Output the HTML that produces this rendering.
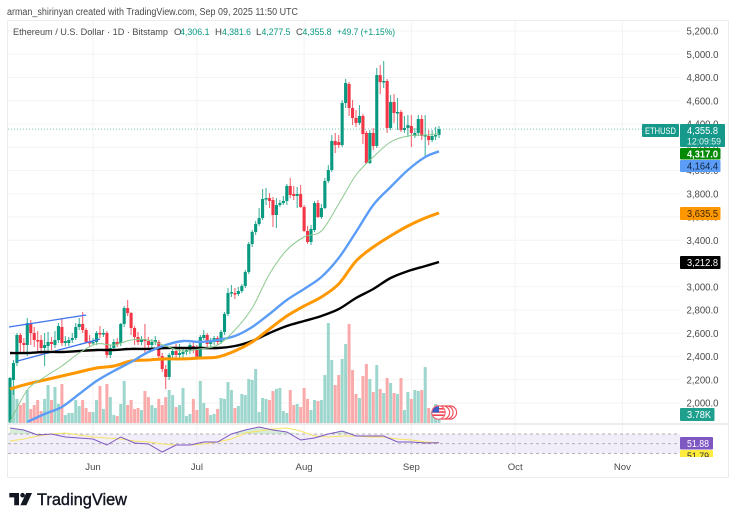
<!DOCTYPE html>
<html lang="en">
<head>
<meta charset="utf-8">
<title>ETHUSD chart</title>
<style>
html,body{margin:0;padding:0;background:#fff;}
body{width:736px;height:522px;overflow:hidden;}
svg{display:block;font-family:"Liberation Sans",sans-serif;filter:blur(.3px);}
</style>
</head>
<body>
<svg id="chart" xmlns="http://www.w3.org/2000/svg" width="736" height="522" viewBox="0 0 736 522">
  <defs>
    <clipPath id="main-clip"><rect x="8" y="21" width="672" height="402"/></clipPath>
    <clipPath id="rsi-clip"><rect x="8" y="425" width="672" height="31"/></clipPath>
    <clipPath id="yellow-clip"><rect x="680" y="425" width="48" height="32"/></clipPath>
    <clipPath id="flag-clip"><circle cx="438.5" cy="412.5" r="6.2"/></clipPath>
  </defs>

  <text x="7" y="15" font-size="10" fill="#4a4a4a" textLength="291" lengthAdjust="spacingAndGlyphs">arman_shirinyan created with TradingView.com, Sep 09, 2025 11:50 UTC</text>

  <g id="grid"></g>

  <g stroke="#ececec" fill="none">
    <line x1="7.5" y1="20.5" x2="728.5" y2="20.5"/>
    <line x1="7.5" y1="20.5" x2="7.5" y2="477.5"/>
    <line x1="728.5" y1="20.5" x2="728.5" y2="477.5"/>
    <line x1="7.5" y1="477.5" x2="728.5" y2="477.5"/>
    <line x1="8" y1="424" x2="728" y2="424" stroke-width="2"/>
  </g>

  <g id="volume" clip-path="url(#main-clip)"></g>
  <g id="candles" clip-path="url(#main-clip)"></g>
  <g id="trends" clip-path="url(#main-clip)"></g>
  <g id="mas" clip-path="url(#main-clip)"></g>
  <g id="rsi" clip-path="url(#rsi-clip)"></g>

  <g>
    <circle cx="450" cy="412.5" r="6.6" fill="#fff" stroke="#f0525f" stroke-width="1.2"/>
    <circle cx="446.5" cy="412.5" r="6.6" fill="#fff" stroke="#f0525f" stroke-width="1.2"/>
    <circle cx="443" cy="412.5" r="6.6" fill="#fff" stroke="#f0525f" stroke-width="1.2"/>
    <circle cx="438.5" cy="412.5" r="6.6" fill="#fff" stroke="#f0525f" stroke-width="1.2"/>
    <g clip-path="url(#flag-clip)">
      <rect x="432" y="406" width="13" height="13" fill="#fff"/>
      <rect x="432" y="408" width="13" height="1.6" fill="#ef4050"/>
      <rect x="432" y="411.2" width="13" height="1.6" fill="#ef4050"/>
      <rect x="432" y="414.4" width="13" height="1.6" fill="#ef4050"/>
      <rect x="432" y="406" width="7" height="6.5" fill="#3b5cc4"/>
    </g>
  </g>

  <text x="13" y="35" font-size="9.6" fill="#4a4a4a" textLength="155" lengthAdjust="spacingAndGlyphs">Ethereum / U.S. Dollar · 1D · Bitstamp</text>
  <g font-size="9.6">
    <text x="174" y="35" fill="#4a4a4a">O</text>
    <text x="180" y="35" fill="#089981" textLength="29.5" lengthAdjust="spacingAndGlyphs">4,306.1</text>
    <text x="215" y="35" fill="#4a4a4a">H</text>
    <text x="222" y="35" fill="#089981" textLength="29" lengthAdjust="spacingAndGlyphs">4,381.6</text>
    <text x="256" y="35" fill="#4a4a4a">L</text>
    <text x="261.5" y="35" fill="#089981" textLength="29" lengthAdjust="spacingAndGlyphs">4,277.5</text>
    <text x="296" y="35" fill="#4a4a4a">C</text>
    <text x="302.5" y="35" fill="#089981" textLength="29" lengthAdjust="spacingAndGlyphs">4,355.8</text>
    <text x="337" y="35" fill="#089981" textLength="58" lengthAdjust="spacingAndGlyphs">+49.7 (+1.15%)</text>
  </g>

  <g id="price-axis"></g>
  <g id="time-axis"></g>

  <g>
    <rect x="642" y="124" width="37" height="13" fill="#16998a" rx="1"/>
    <text x="645" y="134" font-size="9.6" fill="#fff" textLength="31" lengthAdjust="spacingAndGlyphs">ETHUSD</text>
  </g>
  <g>
    <rect x="680" y="124" width="45" height="23" fill="#16998a" rx="1"/>
    <text x="687" y="134" font-size="10" fill="#fff" textLength="31" lengthAdjust="spacingAndGlyphs">4,355.8</text>
    <text x="687" y="144.5" font-size="9.6" fill="#e4f4f1" textLength="34" lengthAdjust="spacingAndGlyphs">12:09:59</text>
  </g>
  <g>
    <rect x="680" y="148" width="40.5" height="11.5" fill="#058a05" rx="1"/>
    <text x="687" y="157.5" font-size="10" font-weight="bold" fill="#fff" textLength="31" lengthAdjust="spacingAndGlyphs">4,317.0</text>
  </g>
  <g>
    <rect x="680" y="160" width="40.5" height="12" fill="#5b9cf6" rx="1"/>
    <text x="687" y="169.5" font-size="10" fill="#10243f" textLength="31" lengthAdjust="spacingAndGlyphs">4,164.4</text>
  </g>
  <g>
    <rect x="680" y="207" width="40.5" height="13" fill="#ff9800" rx="1"/>
    <text x="687" y="217" font-size="10" fill="#3b2500" textLength="31" lengthAdjust="spacingAndGlyphs">3,635.5</text>
  </g>
  <g>
    <rect x="680" y="256" width="40.5" height="13" fill="#000" rx="1"/>
    <text x="687" y="266" font-size="10" fill="#fff" textLength="31" lengthAdjust="spacingAndGlyphs">3,212.8</text>
  </g>
  <g>
    <rect x="680" y="408" width="34.5" height="13" fill="#1fa08e" rx="1"/>
    <text x="687" y="418" font-size="10" fill="#fff" textLength="24" lengthAdjust="spacingAndGlyphs">3.78K</text>
  </g>
  <g clip-path="url(#yellow-clip)">
    <rect x="680" y="450" width="33" height="12" fill="#ffeb3b" rx="1"/>
    <text x="687" y="459.5" font-size="10" fill="#333" textLength="22" lengthAdjust="spacingAndGlyphs">51.79</text>
  </g>
  <g>
    <rect x="680" y="437" width="33" height="12.5" fill="#7e57c2" rx="1"/>
    <text x="687" y="447" font-size="10" fill="#fff" textLength="22" lengthAdjust="spacingAndGlyphs">51.88</text>
  </g>

  <g>
    <g fill="#131722">
      <path d="M9.3 493H19V505.2H14.2V497.4H9.3Z"/>
      <circle cx="22.6" cy="495.2" r="2.3"/>
      <path d="M26.2 493H32L26.4 505.2H20.4Z"/>
    </g>
    <text x="37" y="505" font-size="17" fill="#131722" stroke="#131722" stroke-width="0.4" textLength="90" lengthAdjust="spacingAndGlyphs">TradingView</text>
  </g>
</svg>

<script>
const opens = [
1837,2198,2344,2585,2516,2499,2680,2602,2542,2542,
2473,2490,2525,2499,2542,2654,2516,2516,2542,2559,
2654,2680,2628,2525,2516,2525,2602,2594,2602,2413,
2473,2525,2516,2680,2817,2774,2645,2568,2525,2550,
2533,2499,2525,2525,2404,2292,2224,2413,2447,2413,
2421,2439,2456,2490,2482,2396,2559,2585,2508,2525,
2559,2525,2611,2766,2946,2946,2938,2963,3007,3127,
3368,3471,3540,3591,3755,3763,3746,3617,3703,3720,
3738,3867,3798,3781,3798,3686,3480,3385,3488,3720,
3600,3677,3910,4004,4254,4245,4219,4581,4744,4538,
4452,4409,4469,4323,4064,4323,4211,4821,4761,4770,
4366,4589,4495,4503,4348,4366,4383,4297,4323,4443,
4297,4297,4262,4297,4306.1];
const highs = [
2224,2370,2602,2602,2559,2731,2714,2654,2619,2585,
2602,2611,2568,2619,2688,2731,2576,2568,2602,2688,
2731,2783,2645,2585,2559,2619,2662,2637,2619,2499,
2550,2559,2688,2834,2886,2783,2662,2611,2576,2680,
2568,2550,2576,2542,2430,2327,2430,2473,2508,2508,
2473,2482,2516,2525,2499,2585,2628,2602,2559,2576,
2576,2628,2783,2989,3015,2989,2998,3024,3144,3385,
3488,3566,3677,3841,3850,3806,3772,3763,3746,3781,
3884,3936,3867,3858,3875,3703,3523,3531,3738,3746,
3712,3936,4047,4305,4323,4305,4606,4787,4761,4606,
4520,4563,4486,4340,4348,4366,4882,4907,4942,4787,
4649,4658,4624,4520,4469,4477,4477,4366,4477,4477,
4477,4348,4348,4374,4381.6];
const lows = [
1819,2069,2318,2439,2439,2404,2499,2482,2439,2413,
2318,2421,2456,2473,2516,2490,2490,2490,2516,2542,
2628,2602,2516,2482,2499,2499,2559,2568,2387,2387,
2456,2482,2490,2654,2748,2585,2499,2499,2499,2430,
2456,2456,2499,2370,2267,2120,2198,2370,2387,2370,
2387,2413,2421,2430,2387,2379,2542,2482,2482,2499,
2499,2508,2585,2748,2912,2895,2920,2946,2989,3110,
3342,3445,3523,3574,3703,3677,3514,3505,3686,3703,
3703,3763,3746,3677,3677,3471,3368,3359,3471,3591,
3583,3669,3892,3987,4150,4194,4202,4538,4469,4391,
4374,4391,4228,4056,4056,4176,4194,4658,4710,4323,
4348,4409,4348,4331,4323,4288,4202,4280,4297,4262,
4116,4219,4245,4262,4277.5];
const closes = [
2215,2344,2585,2516,2499,2688,2602,2542,2533,2473,
2499,2525,2508,2542,2662,2516,2533,2542,2559,2654,
2680,2628,2525,2516,2525,2602,2594,2602,2413,2473,
2525,2508,2680,2817,2774,2645,2568,2525,2550,2533,
2499,2525,2542,2404,2292,2224,2413,2447,2413,2430,
2439,2456,2499,2465,2396,2568,2585,2508,2525,2559,
2525,2611,2766,2946,2955,2938,2963,3007,3127,3368,
3471,3540,3591,3755,3763,3738,3617,3703,3720,3738,
3867,3789,3781,3798,3686,3480,3385,3497,3720,3600,
3677,3910,4004,4254,4219,4219,4581,4753,4538,4452,
4409,4469,4314,4064,4323,4211,4821,4761,4770,4366,
4589,4495,4503,4348,4366,4391,4323,4323,4443,4297,
4305,4262,4297,4305,4355.8];
const volumes = [
37.8,28.6,20.2,15.1,16.8,27.7,11.8,15.1,19.3,10.1,
20.2,31.9,19.3,30.2,16,32.8,6.7,8.4,8.4,19.3,
14.3,19.3,12.6,9.2,9.2,19.3,31.1,11.8,32.8,21.8,
6.7,5.9,16,35.3,15.1,19.3,11.8,12.6,10.9,26.9,
21.8,15.1,12.6,20.2,15.1,21.8,27.7,23.5,13.4,15.1,
29.4,5.9,7.6,20.2,10.9,35.3,16.8,12.6,6.7,7.6,
11.8,21,20.2,34.4,27.7,12.6,14.3,24.4,23.5,37,
36.1,45.4,9.2,21,20.2,19.3,26.9,28.6,29.4,10.1,
8.4,27.7,15.1,16,13.4,29.4,20.2,10.9,19.3,18.5,
19.3,40.3,84,52.9,31.9,40.3,53.8,66.4,83.2,44.5,
24.4,21,39.5,49.6,37,26,48.7,28.6,25.2,37.8,
33.6,25.2,24.4,37.8,10.9,26,20.2,27.7,26.9,27.7,
47,12.6,9.2,16,3.78];

const maDays = [0,5,10,15,20,25,30,35,40,45,50,55,60,65,70,75,80,85,90,95,100,105,110,115,120,124];
const ma20 = [1837,2112,2224,2318,2430,2508,2499,2542,2542,2490,2447,2465,2499,2628,2817,3110,3316,3428,3480,3712,3961,4116,4245,4297,4305,4317];
const ma50 = [null,1837,1905,1966,2077,2189,2275,2353,2439,2499,2533,2525,2542,2576,2654,2766,2886,2981,3084,3247,3471,3703,3858,4004,4116,4164.4];
const ma100 = [2120,2163,2198,2232,2267,2301,2318,2361,2370,2379,2379,2387,2396,2447,2525,2637,2748,2834,2912,3024,3221,3342,3437,3523,3591,3635.5];
const ma200 = [2430,2430,2439,2439,2447,2456,2456,2465,2465,2473,2473,2473,2473,2490,2533,2602,2662,2705,2748,2808,2903,2981,3075,3135,3178,3212.8];

const rsiDays = [0,4,8,12,16,20,24,28,32,36,40,44,48,52,56,60,64,68,72,76,80,84,88,92,96,100,104,108,112,116,120,124];
const rsiValues = [82.3,78.2,68,70,63.9,61.8,59.8,47.5,63.9,51.6,49.5,33.1,47.5,47.5,53.6,53.6,70,78.2,84.4,78.2,74.1,57.7,61.8,70,76.2,65.9,65.9,65.9,53.6,53.6,51.6,51.88];
const rsiMaValues = [55.7,59.8,65.9,70,72,68,63.9,61.8,59.8,55.7,53.6,49.5,47.5,47.5,49.5,53.6,59.8,72,76.2,80.3,82.3,76.2,65.9,63.9,65.9,65.9,63.9,63.9,59.8,57.7,53.6,51.79];
const rsiLevels = [70,50,30];

const priceTicks = [5200,5000,4800,4600,4400,4200,4000,3800,3600,3400,3200,3000,2800,2600,2400,2200,2000];
const monthLabels = ["Jun","Jul","Aug","Sep","Oct","Nov"];
const monthDays = [24,54,85,116,146,177];

const channelUpper = [[-0.3,2654],[22,2757]];
const channelLower = [[2.2,2361],[26,2550]];

const NS = "http://www.w3.org/2000/svg";
const xAxis = i => 10 + 3.46 * i;
const yAxis = p => 31 + (5200 - p) * 0.11625;
const volAxis = v => v / 0.84;
const rsiAxis = r => 434 + (70 - r) * 0.4875;

function mk(tag, parent, attrs) {
  const el = document.createElementNS(NS, tag);
  for (const k in attrs) el.setAttribute(k, attrs[k]);
  parent.appendChild(el);
  return el;
}

const grid = document.getElementById("grid");
priceTicks.forEach(p => {
  const el = mk("line", grid, {x1: 8, x2: 680, y1: yAxis(p), y2: yAxis(p), stroke: "#f3f3f3"});
  
  
});
monthDays.forEach(d => {
  const el = mk("line", grid, {x1: xAxis(d), x2: xAxis(d), y1: 21, y2: 456, stroke: "#f3f3f3"});
  
  
});

const volG = document.getElementById("volume");
volumes.forEach((v, i) => {
  const up = closes[i] >= opens[i];
  const h = volAxis(v);
  const el = mk("rect", volG, {x: xAxis(i) - 1.5, y: 423 - h, width: 3, height: h, fill: up ? "#9dd6cd" : "#f9abab"});
  
  
});

const candleG = document.getElementById("candles");
opens.forEach((o, i) => {
  const c = closes[i];
  const up = c >= o;
  const col = up ? "#089981" : "#f23645";
  const x = xAxis(i);
  const wick = mk("line", candleG, {x1: x, x2: x, y1: yAxis(highs[i]), y2: yAxis(lows[i]), stroke: col, "stroke-width": 1.1, opacity: 0.75});
  
  
  const top = Math.min(yAxis(o), yAxis(c));
  const h = Math.max(Math.abs(yAxis(o) - yAxis(c)), 1.5);
  const body = mk("rect", candleG, {x: x - 1.55, y: top, width: 3.1, height: h, fill: col});
  
  
});

const lastLine = mk("line", candleG, {x1: 8, x2: 642, y1: yAxis(closes[closes.length - 1]), y2: yAxis(closes[closes.length - 1]), stroke: "#089981", "stroke-dasharray": "1 2", "stroke-width": 1, opacity: 0.55});



const trendG = document.getElementById("trends");
[channelUpper, channelLower].forEach(t => {
  const el = mk("line", trendG, {x1: xAxis(t[0][0]), y1: yAxis(t[0][1]), x2: xAxis(t[1][0]), y2: yAxis(t[1][1]), stroke: "#3f73ea", "stroke-width": 1.3});
  
  
});

function maPath(vals) {
  const pts = [];
  vals.forEach((v, k) => { if (v !== null) pts.push([xAxis(maDays[k]), yAxis(v)]); });
  let d = "M" + pts[0][0].toFixed(1) + " " + pts[0][1].toFixed(1);
  for (let k = 0; k < pts.length - 1; k++) {
    const p0 = pts[Math.max(k - 1, 0)], p1 = pts[k], p2 = pts[k + 1], p3 = pts[Math.min(k + 2, pts.length - 1)];
    const c1x = p1[0] + (p2[0] - p0[0]) / 6, c1y = p1[1] + (p2[1] - p0[1]) / 6;
    const c2x = p2[0] - (p3[0] - p1[0]) / 6, c2y = p2[1] - (p3[1] - p1[1]) / 6;
    d += "C" + c1x.toFixed(1) + " " + c1y.toFixed(1) + " " + c2x.toFixed(1) + " " + c2y.toFixed(1) + " " + p2[0].toFixed(1) + " " + p2[1].toFixed(1);
  }
  return d;
}
const maG = document.getElementById("mas");
const line200 = mk("path", maG, {d: maPath(ma200), fill: "none", stroke: "#000", "stroke-width": 2.4, "stroke-linejoin": "round"});


const line100 = mk("path", maG, {d: maPath(ma100), fill: "none", stroke: "#ff9800", "stroke-width": 3, "stroke-linejoin": "round"});


const line50 = mk("path", maG, {d: maPath(ma50), fill: "none", stroke: "#5b9cf6", "stroke-width": 2.4, "stroke-linejoin": "round"});


const line20 = mk("path", maG, {d: maPath(ma20), fill: "none", stroke: "#8cc98f", "stroke-width": 1, "stroke-linejoin": "round"});



const rsiG = document.getElementById("rsi");
const band = mk("rect", rsiG, {x: 8, width: 672, y: rsiAxis(70), height: rsiAxis(30) - rsiAxis(70), fill: "#7e57c2", "fill-opacity": 0.1});


rsiLevels.forEach(l => {
  const el = mk("line", rsiG, {x1: 8, x2: 680, y1: rsiAxis(l), y2: rsiAxis(l), stroke: "#9a9a9a", "stroke-dasharray": "3 3", "stroke-width": 0.8});
  
  
});
const obPts = rsiDays.map((d, k) => xAxis(d).toFixed(1) + "," + Math.min(rsiAxis(rsiValues[k]), rsiAxis(70)).toFixed(1));
obPts.unshift(xAxis(rsiDays[0]).toFixed(1) + "," + rsiAxis(70));
obPts.push(xAxis(rsiDays[rsiDays.length - 1]).toFixed(1) + "," + rsiAxis(70));
const obFill = mk("polygon", rsiG, {points: obPts.join(" "), fill: "#4caf50", "fill-opacity": 0.22});


const rsiMaLine = mk("polyline", rsiG, {points: rsiDays.map((d, k) => xAxis(d).toFixed(1) + "," + rsiAxis(rsiMaValues[k]).toFixed(1)).join(" "), fill: "none", stroke: "#f7e463", "stroke-width": 1.1});


const rsiLine = mk("polyline", rsiG, {points: rsiDays.map((d, k) => xAxis(d).toFixed(1) + "," + rsiAxis(rsiValues[k]).toFixed(1)).join(" "), fill: "none", stroke: "#7e57c2", "stroke-width": 1});



const priceAxis = document.getElementById("price-axis");
priceTicks.forEach(p => {
  const el = mk("text", priceAxis, {x: 686.5, y: yAxis(p) + 3.5, "font-size": 10, fill: "#4a4a4a", textLength: 32, lengthAdjust: "spacingAndGlyphs"});
  
  
  el.textContent = p.toLocaleString("en-US") + ".0";
});

const timeAxis = document.getElementById("time-axis");
monthLabels.forEach((m, k) => {
  const el = mk("text", timeAxis, {x: xAxis(monthDays[k]), y: 470, "font-size": 9.6, fill: "#4a4a4a", "text-anchor": "middle"});
  
  
  el.textContent = m;
});
</script>
</body>
</html>
